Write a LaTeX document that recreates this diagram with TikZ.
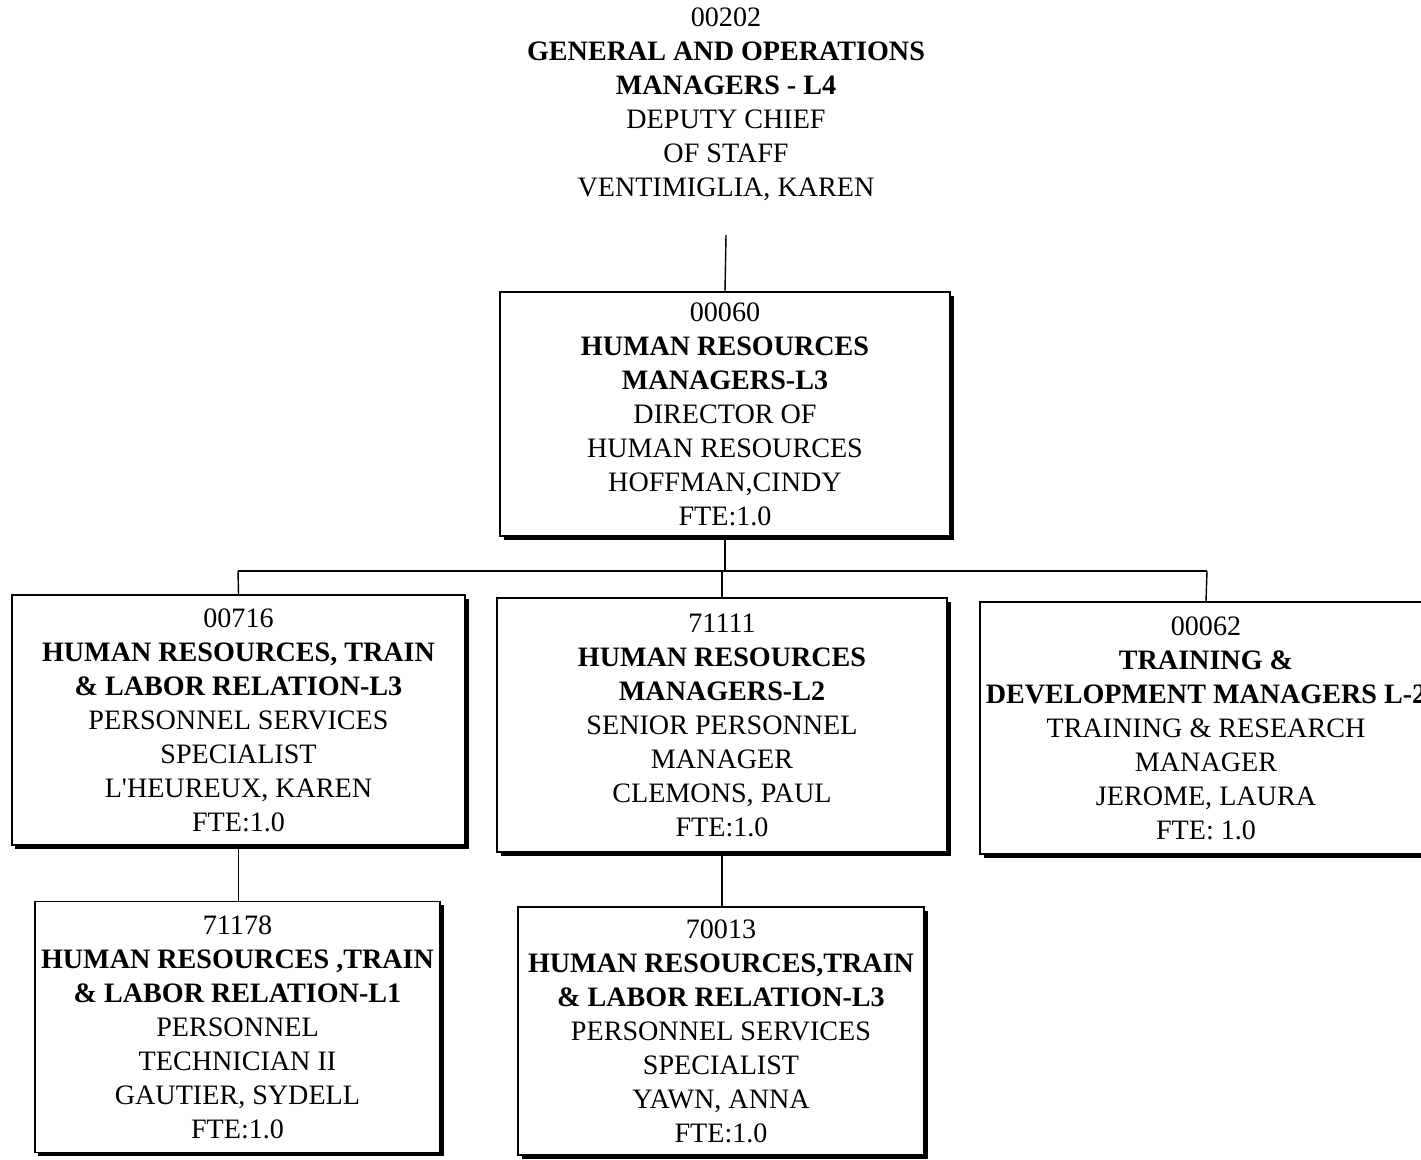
\documentclass[tikz,border=0pt]{standalone}
\usepackage{fontspec}
\setmainfont{Liberation Serif}
\usetikzlibrary{shadows}
\tikzstyle{posbox} = [draw, line width=1.1pt, fill=white, rectangle,
    align=center, inner sep=0pt, font=\fontsize{16}{19.35}\selectfont,
    drop shadow={shadow xshift=0.7mm, shadow yshift=-0.7mm, fill=black, opacity=1}]
\tikzstyle{head} = [align=center, inner sep=0pt, font=\fontsize{16}{19.35}\selectfont]
\tikzstyle{link} = [line width=0.8pt]

\begin{document}
\begin{tikzpicture}[x=0.2mm, y=-0.2mm]
\useasboundingbox (0,0) rectangle (1421,1159);
 \coordinate (T) at (726,104);
 \coordinate (H) at (725,414);
 \coordinate (P1) at (238.5,720);
 \coordinate (P2) at (722,725);
 \coordinate (P3) at (1206,728);
 \coordinate (Q1) at (237.5,1027);
 \coordinate (Q2) at (721,1031);
 \coordinate (topend) at (726,235);
 \coordinate (busL) at (238,571);
 \coordinate (busR) at (1207,571);

\node[head, name=chief] at (T) {00202\\\textbf{GENERAL AND OPERATIONS}\\\textbf{MANAGERS - L4}\\DEPUTY CHIEF\\OF STAFF\\VENTIMIGLIA, KAREN};

\node[posbox, name=hrdir, minimum width=90mm, minimum height=48.8mm] at (H)
  {00060\\\textbf{HUMAN RESOURCES}\\\textbf{MANAGERS-L3}\\DIRECTOR OF\\HUMAN RESOURCES\\HOFFMAN,CINDY\\FTE:1.0};

\node[posbox, name=pss, minimum width=90.6mm, minimum height=50mm] at (P1)
  {00716\\\textbf{HUMAN RESOURCES, TRAIN}\\\textbf{\& LABOR RELATION-L3}\\PERSONNEL SERVICES\\SPECIALIST\\L\textquotesingle HEUREUX, KAREN\\FTE:1.0};
\node[posbox, name=spm, minimum width=90mm, minimum height=50.8mm] at (P2)
  {71111\\\textbf{HUMAN RESOURCES}\\\textbf{MANAGERS-L2}\\SENIOR PERSONNEL\\MANAGER\\CLEMONS, PAUL\\FTE:1.0};
\node[posbox, name=trm, minimum width=90.4mm, minimum height=50.4mm] at (P3)
  {00062\\\textbf{TRAINING \&}\\\textbf{DEVELOPMENT MANAGERS L-2}\\TRAINING \& RESEARCH\\MANAGER\\JEROME, LAURA\\FTE: 1.0};

\node[posbox, name=tech, minimum width=81mm, minimum height=50.2mm] at (Q1)
  {71178\\\textbf{HUMAN RESOURCES ,TRAIN}\\\textbf{\& LABOR RELATION-L1}\\PERSONNEL\\TECHNICIAN II\\GAUTIER, SYDELL\\FTE:1.0};
\node[posbox, name=pss2, minimum width=81.2mm, minimum height=49.6mm] at (Q2)
  {70013\\\textbf{HUMAN RESOURCES,TRAIN}\\\textbf{\& LABOR RELATION-L3}\\PERSONNEL SERVICES\\SPECIALIST\\YAWN, ANNA\\FTE:1.0};

\draw[link] (topend) -- (hrdir.north);
\draw[link] (hrdir.south) -- (hrdir.south |- busL);
\draw[link] (busL) -- (busR);
\draw[link] (busL) -- (pss.north);
\draw[link] (spm.north |- busL) -- (spm.north);
\draw[link] (busR) -- (trm.north);
\draw[link] (pss.south) -- (pss.south |- tech.north);
\draw[link] (spm.south) -- (spm.south |- pss2.north);

\end{tikzpicture}
\end{document}
